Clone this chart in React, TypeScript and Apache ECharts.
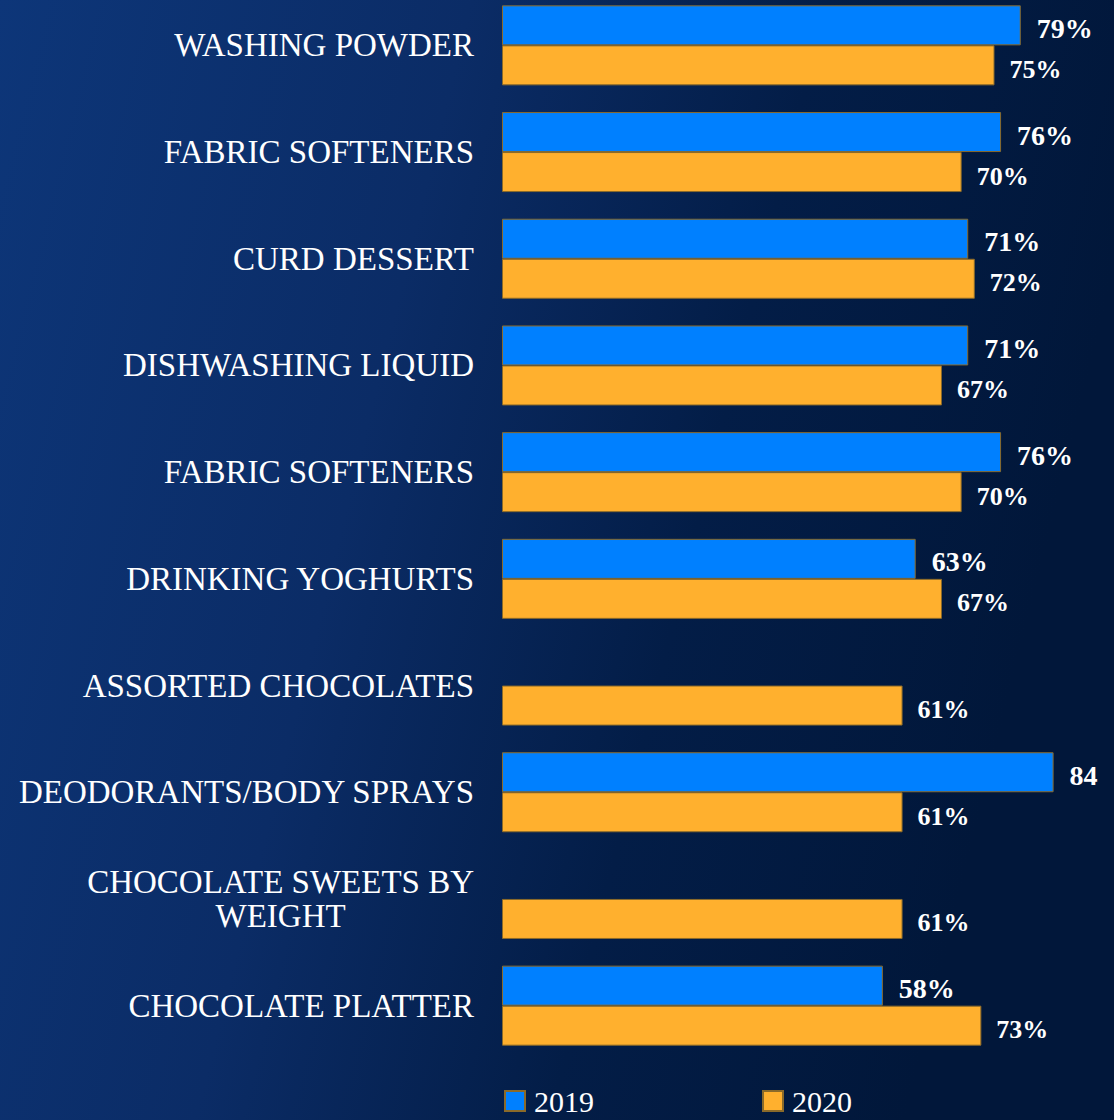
import React, { useEffect, useRef } from "react";
import * as echarts from "echarts";

const categories = [
  "WASHING POWDER",
  "FABRIC SOFTENERS",
  "CURD DESSERT",
  "DISHWASHING LIQUID",
  "FABRIC SOFTENERS ",
  "DRINKING YOGHURTS",
  "ASSORTED CHOCOLATES",
  "DEODORANTS/BODY SPRAYS",
  "CHOCOLATE SWEETS BY\nWEIGHT",
  "CHOCOLATE PLATTER",
];
const values2019: (number | null)[] = [79, 76, 71, 71, 76, 63, null, 84, null, 58];
const values2020: (number | null)[] = [75, 70, 72, 67, 70, 67, 61, 61, 61, 73];
const noPercent2019 = [7]; // index whose label shows no % sign

export default function App() {
  const ref = useRef<HTMLDivElement>(null);
  useEffect(() => {
    if (!ref.current) return;
    const chart = echarts.init(ref.current, undefined, { renderer: "svg" });
    const serif = "Liberation Serif, Times New Roman, serif";
    const border = "#8a6a2a";
    chart.setOption({
      animation: false,
      backgroundColor: {
        type: "linear",
        x: 0,
        y: 0,
        x2: 1,
        y2: 0.25,
        colorStops: [
          { offset: 0, color: "#0d3679" },
          { offset: 0.4, color: "#0b2c66" },
          { offset: 0.7, color: "#031d47" },
          { offset: 1, color: "#01173a" },
        ],
      },
      grid: { left: 502, top: 0, height: 1067, width: 591 },
      xAxis: {
        type: "value",
        min: 0,
        max: 90,
        show: false,
      },
      yAxis: {
        type: "category",
        data: categories,
        inverse: true,
        axisLine: { show: false },
        axisTick: { show: false },
        splitLine: { show: false },
        axisLabel: {
          margin: 28,
          color: "#ffffff",
          fontFamily: serif,
          fontSize: 33,
          lineHeight: 34,
          formatter: (v: string) => {
            if (v.indexOf("\n") >= 0) {
              return v
                .split("\n")
                .map((s) => "{c|" + s.trim() + "}")
                .join("\n");
            }
            return v.trim();
          },
          rich: {
            c: {
              align: "center",
              color: "#ffffff",
              fontFamily: serif,
              fontSize: 33,
              lineHeight: 34,
            },
          },
        },
      },
      legend: {
        left: 504,
        top: 1094,
        padding: 0,
        itemWidth: 20,
        itemHeight: 20,
        itemGap: 168,
        icon: "rect",
        textStyle: {
          color: "#ffffff",
          fontFamily: serif,
          fontSize: 30,
          lineHeight: 30,
          padding: [0, 0, 0, 4],
        },
        data: ["2019", "2020"],
      },
      series: [
        {
          name: "2019",
          type: "bar",
          data: values2019,
          barGap: "0%",
          barCategoryGap: "25%",
          itemStyle: { color: "#0080ff", borderColor: border, borderWidth: 1 },
          label: {
            show: true,
            position: "right",
            distance: 16,
            offset: [0, 3],
            color: "#ffffff",
            fontFamily: serif,
            fontWeight: "bold",
            fontSize: 28,
            formatter: (p: any) =>
              p.value == null ? "" : noPercent2019.includes(p.dataIndex) ? String(p.value) : p.value + "%",
          },
        },
        {
          name: "2020",
          type: "bar",
          data: values2020,
          barGap: "0%",
          barCategoryGap: "25%",
          itemStyle: { color: "#ffb02e", borderColor: border, borderWidth: 1 },
          label: {
            show: true,
            position: "right",
            distance: 15,
            offset: [0, 4],
            color: "#ffffff",
            fontFamily: serif,
            fontWeight: "bold",
            fontSize: 26,
            formatter: (p: any) => (p.value == null ? "" : p.value + "%"),
          },
        },
      ],
    });
    return () => chart.dispose();
  }, []);
  return (
    <div
      ref={ref}
      style={{ position: "absolute", left: 0, top: -8, width: 1114, height: 1128 }}
    />
  );
}
